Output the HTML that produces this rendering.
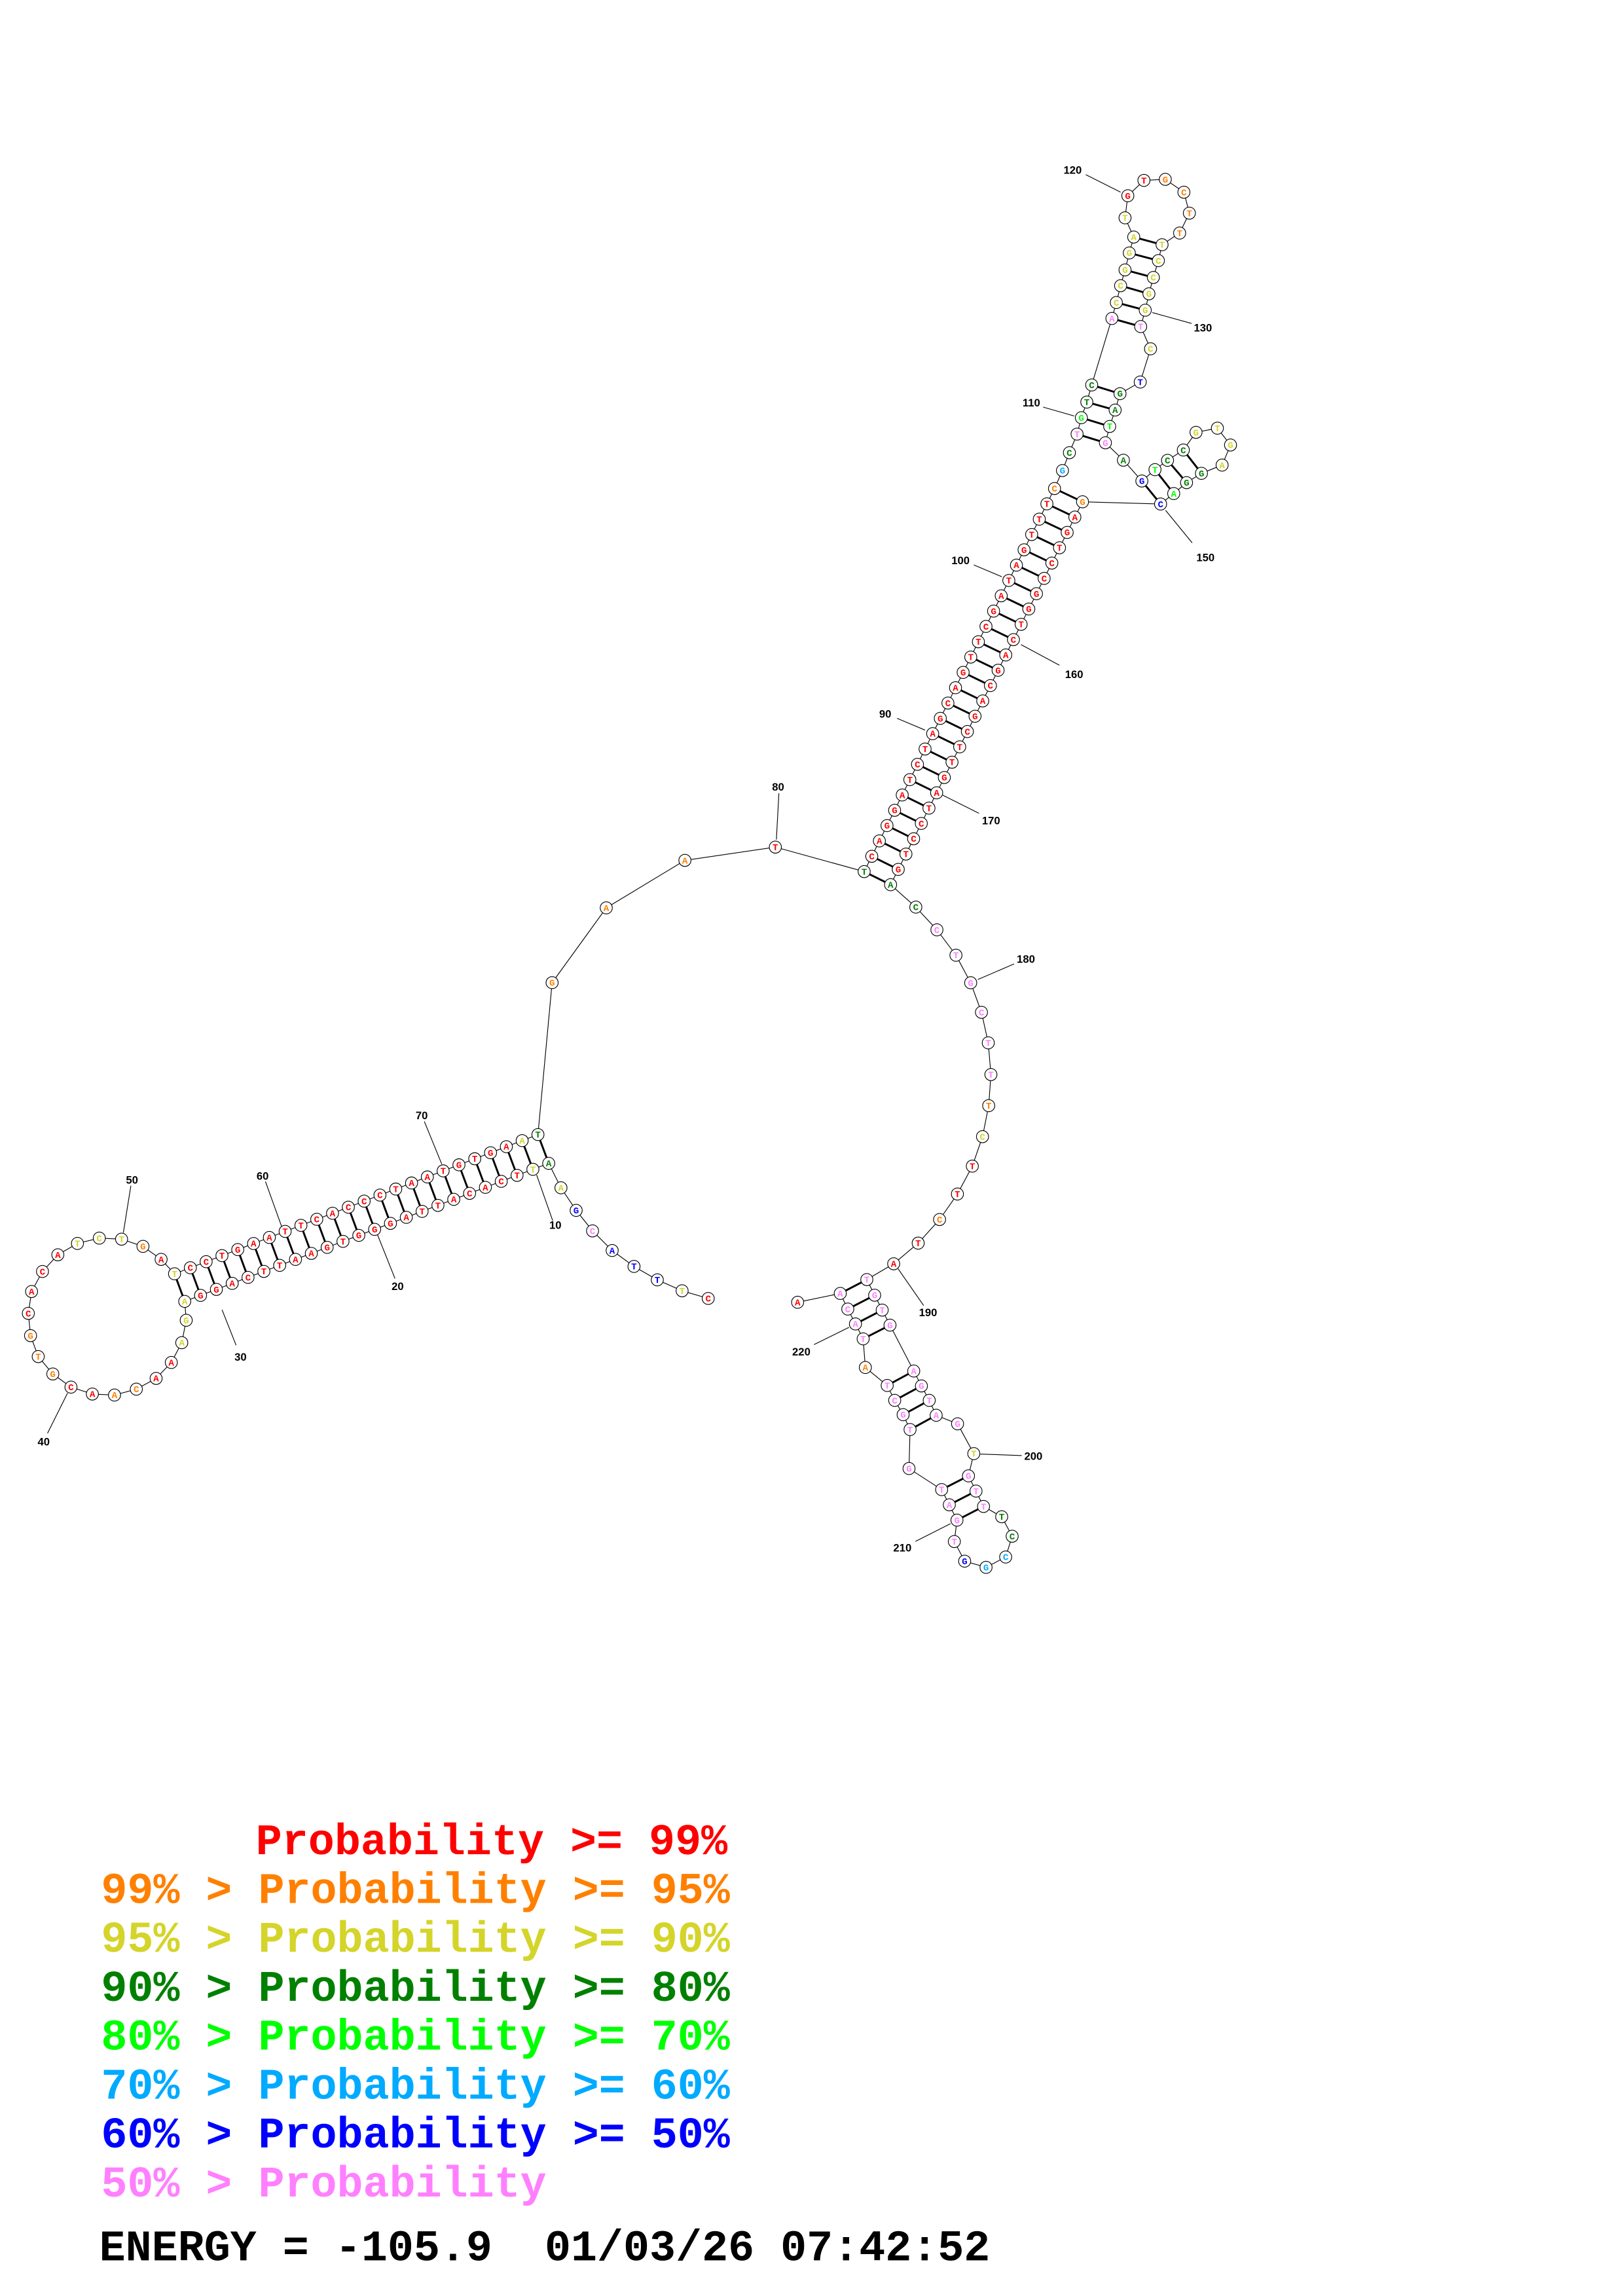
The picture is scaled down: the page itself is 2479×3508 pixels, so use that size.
<!DOCTYPE html>
<html><head><meta charset="utf-8"><style>
html,body{margin:0;padding:0;background:#fff;}
svg{display:block;}
</style></head><body>
<svg id="s" xmlns="http://www.w3.org/2000/svg" width="2479" height="3508" viewBox="0 0 1100 1556.6" preserveAspectRatio="none">
<rect x="0" y="0" width="1100" height="1556.6" fill="#fff"/>
<g id="bb"></g><g id="pp"></g><g id="ll"></g><g id="nn"></g>
<g font-family="'Liberation Mono','DejaVu Sans Mono',monospace" font-weight="bold" font-size="29.6">
<text x="173.4" y="1257.0" fill="#ff0000">Probability &gt;= 99%</text>
<text x="68.5" y="1290.2" fill="#ff8000" xml:space="preserve">99% &gt; Probability &gt;= 95%</text>
<text x="68.5" y="1323.3" fill="#d4d42a" xml:space="preserve">95% &gt; Probability &gt;= 90%</text>
<text x="68.5" y="1356.5" fill="#008000" xml:space="preserve">90% &gt; Probability &gt;= 80%</text>
<text x="68.5" y="1389.6" fill="#00ff00" xml:space="preserve">80% &gt; Probability &gt;= 70%</text>
<text x="68.5" y="1422.8" fill="#00aaff" xml:space="preserve">70% &gt; Probability &gt;= 60%</text>
<text x="68.5" y="1455.9" fill="#0000ff" xml:space="preserve">60% &gt; Probability &gt;= 50%</text>
<text x="68.5" y="1489.1" fill="#ff80ff" xml:space="preserve">50% &gt; Probability</text>
<text x="67.3" y="1532.4" fill="#000" xml:space="preserve">ENERGY = -105.9  01/03/26 07:42:52</text>
</g>
</svg>
<script>
(function(){
var C={R:"#ff0000",O:"#ff8000",Y:"#d4d42a",D:"#008000",G:"#00ff00",L:"#00aaff",B:"#0000ff",P:"#ff80ff"};
var N=[];
function add(x,y,l,c){N.push([x,y,l,c]);return N.length-1;}
function strand(x1,y1,x2,y2,letters,colors){var n=letters.length,idx=[];for(var i=0;i<n;i++){var t=n==1?0:i/(n-1);idx.push(add(x1+(x2-x1)*t,y1+(y2-y1)*t,letters[i],colors[i]));}return idx;}
function list(a){var idx=[];for(var i=0;i<a.length;i++)idx.push(add(a[i][0],a[i][1],a[i][2],a[i][3]));return idx;}
var P=[];
list([[480,880.3,"C","R"],[462.3,875.1,"T","Y"],[445.5,867.7,"T","B"],[429.7,858.6,"T","B"],[414.9,847.8,"A","B"],[401.6,834.5,"C","P"],[390.5,820.6,"G","B"],[380.2,805.3,"A","Y"]]);
var bs="ATTCACATTAGGGTGAATTCAGGA",bc="DY"+"R".repeat(21)+"Y";
var bot=strand(371.9,788.7,125.2,882.3,bs,bc);
list([[126.2,895.1,"G","Y"],[123.2,910.3,"A","Y"],[116.1,923.7,"A","R"],[105.8,934.5,"A","R"],[92.4,941.8,"C","O"],[77.6,945.8,"A","O"],[62.6,945.1,"A","R"],[48.1,940.4,"C","R"],[35.8,931.5,"G","O"],[25.9,919.7,"T","O"],[20.7,905.5,"G","O"],[19.2,890.4,"C","R"],[21.4,875.6,"A","R"],[28.8,862.0,"C","R"],[39.2,850.7,"A","R"],[52.5,843.0,"T","Y"],[67.3,839.4,"C","Y"],[82.4,840.1,"T","Y"],[96.9,845.0,"G","O"],[109.2,853.8,"A","R"]]);
var ts="TCCTGAATTCACCCTAATGTGAAT",tc="Y"+"R".repeat(21)+"YD";
var top=strand(118.3,863.6,364.6,769.2,ts,tc);
for(var i=0;i<24;i++)P.push([bot[i],top[23-i]]);
list([[374.2,666.2,"G","O"],[410.9,615.5,"A","O"],[464.2,583.3,"A","O"],[525.5,574.3,"T","R"]]);
var ls="TCAGGATCTAGCAGTTCGATAGTTTC",lc="D"+"R".repeat(24)+"O";
var ml=strand(585.7,590.9,714.7,331.2,ls,lc);
var t1=list([[720.1,319.0,"G","L"],[724.8,306.9,"C","D"],[730.0,294.3,"T","P"],[732.9,283.2,"G","G"],[736.6,272.6,"T","D"],[739.9,261.0,"C","D"]]);
var h=list([[753.6,215.9,"A","P"],[756.6,205.1,"C","Y"],[759.5,193.7,"C","Y"],[762.5,183.0,"G","Y"],[765.4,171.5,"G","Y"],[768.4,160.7,"A","Y"],[762.5,147.7,"T","Y"],[764.4,132.7,"G","R"],[775.3,122.3,"T","R"],[789.8,121.6,"G","O"],[802.4,130.3,"C","O"],[806.1,144.5,"T","O"],[799.5,158.0,"T","O"],[787.6,165.9,"T","Y"],[785.1,176.7,"C","Y"],[781.7,188.1,"C","Y"],[778.7,199.2,"G","Y"],[776.2,210.3,"G","Y"],[773.1,221.4,"T","P"]]);
for(var i=0;i<6;i++)P.push([h[i],h[18-i]]);
list([[779.8,236.5,"C","Y"],[772.8,259.0,"T","B"]]);
var t2=list([[759.1,266.9,"G","D"],[755.8,278.0,"A","D"],[752.1,289.1,"T","G"],[749.2,300.2,"G","P"]]);
P.push([t1[5],t2[0]],[t1[4],t2[1]],[t1[3],t2[2]],[t1[2],t2[3]]);
list([[761.4,312.0,"A","D"]]);
var s=list([[773.9,326.1,"G","B"],[782.8,318.4,"T","G"],[791.3,312.1,"C","D"],[802.0,305.1,"C","D"],[810.6,293.1,"G","Y"],[825.1,290.3,"T","Y"],[834.0,301.7,"G","Y"],[828.3,315.3,"A","Y"],[814.3,320.9,"G","D"],[804.2,327.2,"G","D"],[795.5,334.6,"A","G"],[786.6,341.7,"C","B"]]);
P.push([s[0],s[11]],[s[1],s[10]],[s[2],s[9]],[s[3],s[8]]);
var rs="GAGTCCGGTCAGCAGCTTGATCCTGA",rc="O"+"R".repeat(24)+"D";
var mr=strand(733.7,340.2,603.6,599.8,rs,rc);
for(var i=0;i<26;i++)P.push([ml[i],mr[25-i]]);
list([[620.7,615.0,"C","D"],[635.0,630.4,"C","P"],[647.9,647.6,"T","P"],[657.9,666.3,"G","P"],[665.2,686.3,"C","P"],[669.8,707.0,"T","P"],[671.6,728.5,"T","P"],[670.1,749.6,"T","O"],[665.9,770.6,"C","Y"],[659.0,790.6,"T","R"],[648.9,809.5,"T","R"],[636.8,826.8,"C","O"],[622.3,842.8,"T","R"],[605.7,856.8,"A","R"]]);
var q=list([[587.5,867.5,"T","P"],[592.8,878.1,"G","P"],[597.9,888.2,"T","P"],[603.2,898.4,"G","P"],[619.3,929.5,"A","P"],[624.5,939.6,"G","P"],[629.8,949.4,"T","P"],[634.5,959.5,"A","P"],[649.0,965.3,"G","P"],[660.0,985.5,"T","Y"],[656.4,1000.6,"G","P"],[661.5,1010.9,"T","P"],[666.6,1021.3,"T","P"],[678.9,1028.3,"T","D"],[686.0,1041.5,"C","D"],[681.6,1055.6,"C","L"],[668.3,1062.6,"G","L"],[653.8,1058.4,"G","B"],[646.8,1045.1,"T","P"],[648.6,1030.6,"G","P"],[643.4,1020.2,"A","P"],[638.2,1009.9,"T","P"],[616.1,995.6,"G","P"],[616.8,969.2,"T","P"],[612.1,959.1,"G","P"],[606.4,949.4,"C","P"],[601.3,939.3,"T","P"],[586.5,927.1,"A","O"],[585.0,907.7,"T","P"],[579.8,897.6,"A","P"],[574.6,887.5,"C","P"],[569.5,876.9,"A","P"],[540.6,882.9,"A","R"]]);
P.push([q[0],q[31]],[q[1],q[30]],[q[2],q[29]],[q[3],q[28]],[q[4],q[26]],[q[5],q[25]],[q[6],q[24]],[q[7],q[23]],[q[10],q[21]],[q[11],q[20]],[q[12],q[19]]);
var NS="http://www.w3.org/2000/svg";
function el(p,t,a){var e=document.createElementNS(NS,t);for(var k in a)e.setAttribute(k,a[k]);p.appendChild(e);return e;}
var bb=document.getElementById("bb"),pp=document.getElementById("pp"),ll=document.getElementById("ll"),nn=document.getElementById("nn");
for(var i=0;i<N.length-1;i++)el(bb,"line",{x1:N[i][0],y1:N[i][1],x2:N[i+1][0],y2:N[i+1][1],stroke:"#000","stroke-width":0.5});
for(var i=0;i<P.length;i++){var a=N[P[i][0]],b=N[P[i][1]];el(pp,"line",{x1:a[0],y1:a[1],x2:b[0],y2:b[1],stroke:"#000","stroke-width":1.3});}
for(var i=0;i<N.length;i++){var n=N[i];el(nn,"circle",{cx:n[0],cy:n[1],r:4.1,fill:"#fff",stroke:"#000","stroke-width":0.5});
var t=el(nn,"text",{x:n[0],y:n[1]+2.1,"text-anchor":"middle","font-family":"'Liberation Mono',monospace","font-weight":"bold","font-size":6.3,fill:C[n[3]]});t.textContent=n[2];}
var L=[["10",376.4,830.6,363.7,796.6,374.6,827.6],["20",269.5,872.0,255.9,837.2,267.7,866.8],["30",163,920,150.5,888,160,912],["40",29.6,977.3,45.8,944.4,32.2,971.7],["50",89.5,799.9,88.7,803.9,83.6,835.7],["60",178.0,797.3,179.9,801,191.6,833.5],["70",285.8,756.2,287.6,760.3,299.4,789.2],["80",527.4,533.4,527.9,537.8,526.2,569.2],["90",600,484,608,487,627,495],["100",651,380,660,383,679,391],["110",699,273,707,276,728,282],["120",727.0,115.2,735.9,118.4,759.5,130.3],["130",815.3,222.2,781,211.9,807.6,219.3],["150",817,378,790,346,808,368],["160",728,457,692,437,718,451],["170",671.7,556.2,638.9,539.1,663.5,551.4],["180",695.3,650.1,662.7,664.1,687.3,653.5],["190",629.0,889.8,608.7,860.2,626.0,885.1],["200",700.4,987.1,664.4,985.8,692.5,986.8],["210",611.6,1049.3,620.5,1045.0,644.2,1033.0],["220",543.1,916.3,551.7,911.6,575.4,899.9]];
for(var i=0;i<L.length;i++){var l=L[i];el(ll,"line",{x1:l[3],y1:l[4],x2:l[5],y2:l[6],stroke:"#000","stroke-width":0.5});
var t=el(ll,"text",{x:l[1],y:l[2]+2.6,"text-anchor":"middle","font-family":"'Liberation Sans','DejaVu Sans',sans-serif","font-weight":"bold","font-size":7.4,fill:"#000"});t.textContent=l[0];}
})();
</script>
</body></html>
